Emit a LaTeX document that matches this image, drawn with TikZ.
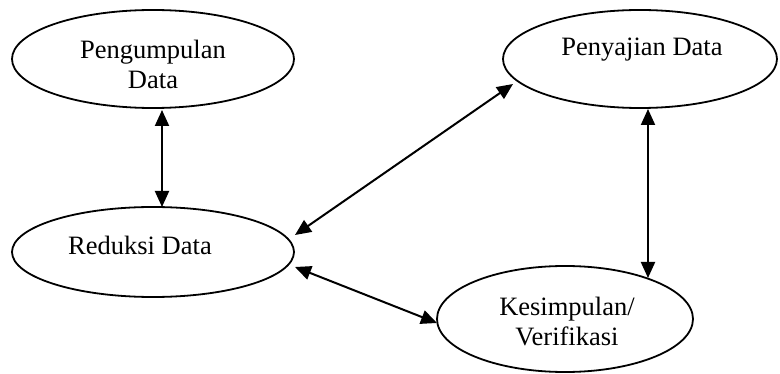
\documentclass[tikz,border=0pt]{standalone}
\usepackage{fontspec}
\setmainfont{Liberation Serif}
\usetikzlibrary{shapes.geometric,arrows.meta,calc}
\begin{document}
\begin{tikzpicture}[x=1pt,y=-1pt,
  ell/.style={ellipse,draw,line width=1.8pt,inner sep=0pt},
  lbl/.style={font=\fontsize{26.5}{30}\selectfont,align=center,inner sep=0pt},
  link/.style={line width=2pt,{Triangle[length=16pt,width=14pt]}-{Triangle[length=16pt,width=14pt]}}]
\useasboundingbox (0,0) rectangle (780,374);
\node[ell,minimum width=282pt,minimum height=98pt] (pen) at (153,59) {};
\node[ell,minimum width=274pt,minimum height=98pt] (saj) at (640,59) {};
\node[ell,minimum width=282pt,minimum height=90pt] (red) at (153,252) {};
\node[ell,minimum width=256pt,minimum height=106pt] (kes) at (565,319) {};
\node[lbl] (tpen) at (153,64) {Pengumpulan\\Data};
\node[lbl] (tsaj) at (642,50) {Penyajian Data};
\node[lbl] (tred) at (140,245) {Reduksi Data};
\node[lbl] (tkes) at (567,322) {Kesimpulan/\\Verifikasi};
\draw[link] ($(pen.center)+(9,51)$) -- ($(red.center)+(9,-45)$);
\draw[link] ($(red.center)+(142,-17)$) -- ($(saj.center)+(-127,25)$);
\draw[link] ($(red.center)+(142,15)$) -- ($(kes.center)+(-128,4)$);
\draw[link] ($(saj.center)+(8,50)$) -- ($(kes.center)+(83,-41)$);
\end{tikzpicture}
\end{document}
